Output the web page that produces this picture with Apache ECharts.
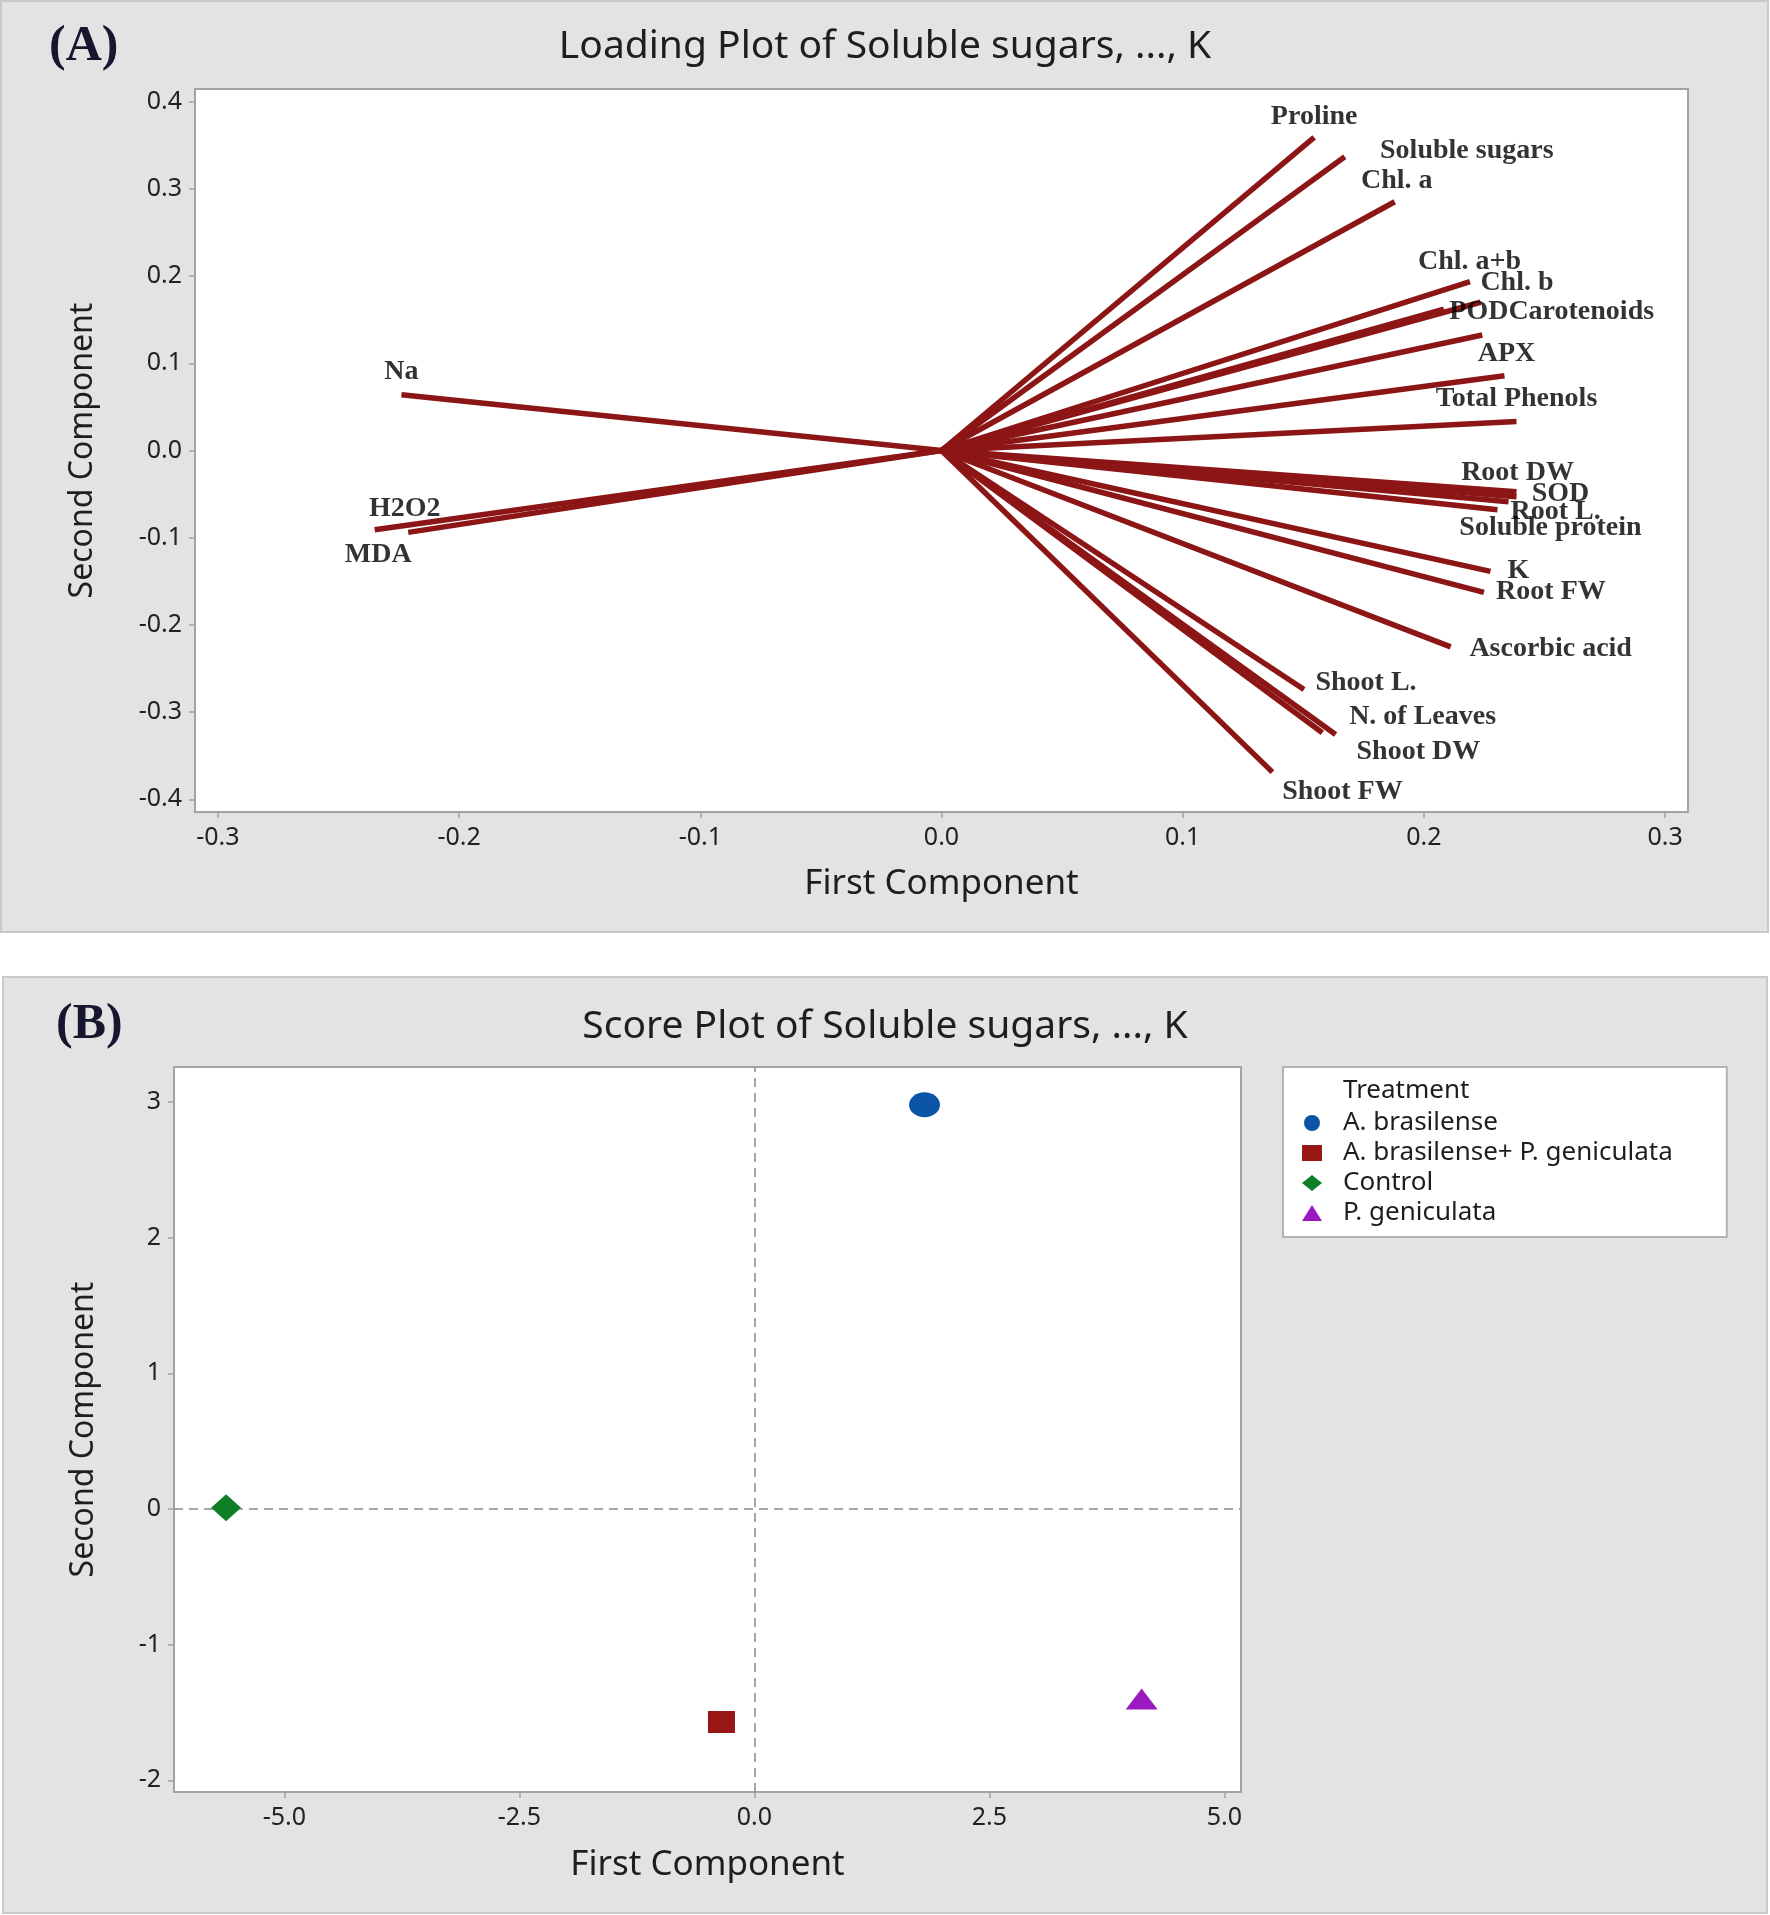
<!DOCTYPE html>
<html>
<head>
<meta charset="utf-8">
<title>Loading and Score Plot</title>
<script src="https://cdn.jsdelivr.net/npm/echarts@6/dist/echarts.min.js"></script>
<style>
  html, body { margin: 0; padding: 0; background: #ffffff; }
  #main { width: 1770px; height: 1915px; }
</style>
</head>
<body>
<div id="main"></div>
<script>
// ---- loading plot (A) ----
const loadingNames = ['Proline', 'Soluble sugars', 'Chl. a', 'Chl. b', 'Chl. a+b', 'POD', 'Carotenoids', 'APX',
  'Total Phenols', 'Root DW', 'SOD', 'Root L.', 'Soluble protein', 'K', 'Root FW', 'Ascorbic acid',
  'Shoot L.', 'N. of Leaves', 'Shoot DW', 'Shoot FW', 'Na', 'H2O2', 'MDA'];
const pc1Loadings = [0.1545, 0.1672, 0.1879, 0.2191, 0.2235, 0.2083, 0.2242, 0.2334,
  0.2384, 0.2384, 0.2384, 0.2351, 0.2305, 0.2276, 0.2249, 0.2111,
  0.1503, 0.1634, 0.1579, 0.1372, -0.2239, -0.2350, -0.2211];
const pc2Loadings = [0.3590, 0.3368, 0.2852, 0.1936, 0.1700, 0.1620, 0.1325, 0.0856,
  0.0332, -0.0473, -0.0530, -0.0588, -0.0679, -0.1386, -0.1627, -0.2252,
  -0.2741, -0.3257, -0.3237, -0.3688, 0.0638, -0.0908, -0.0939];
const loadingXTicks = [-0.3, -0.2, -0.1, 0.0, 0.1, 0.2, 0.3];
const loadingYTicks = [-0.4, -0.3, -0.2, -0.1, 0.0, 0.1, 0.2, 0.3, 0.4];

// ---- score plot (B) ----
const treatments = ['A. brasilense', 'A. brasilense+ P. geniculata', 'Control', 'P. geniculata'];
const pc1Scores = [1.81, -0.35, -5.62, 4.12];
const pc2Scores = [2.98, -1.57, 0.01, -1.40];
const scoreXTicks = [-5.0, -2.5, 0.0, 2.5, 5.0];
const scoreYTicks = [-2, -1, 0, 1, 2, 3];

// label placement (pixel offsets from the vector tip), styling only
const labelOffsets = [[0, -21], [122, -6], [2, -21], [47, 1], [-11, -40], [35, 3], [99, -23], [2, -22],
  [0, -23], [1, -19], [44, -3], [47, 10], [53, 18], [28, -1], [67, -1], [100, 2],
  [62, -7], [87, -18], [96, 19], [70, 20], [0, -23], [30, -21], [-30, 22]];
const treatmentColors = ['#0b55a6', '#981616', '#0e7f27', '#9a1ac0'];
const treatmentSymbols = ['circle', 'rect', 'diamond', 'triangle'];
const treatmentSizes = [[31, 25], [27, 22], [30, 27], [32, 21]];

const sansFont = 'Noto Sans';
const vectorColor = '#8c1515';
const frameColor = '#a3a3a3';

const axis = function ({ gridIndex, name, nameGap, nameSize, min, max, ticks, digits }) {
  return {
    type: 'value',
    gridIndex: gridIndex,
    name: name,
    nameLocation: 'middle',
    nameGap: nameGap,
    nameTextStyle: { fontFamily: sansFont, fontSize: nameSize, color: '#1e1e1e' },
    min: min,
    max: max,
    splitLine: { show: false },
    axisLine: { show: true, onZero: false, lineStyle: { color: frameColor, width: 2 } },
    axisTick: { show: true, length: 6, customValues: ticks, lineStyle: { color: frameColor, width: 1.5 } },
    axisLabel: {
      customValues: ticks,
      margin: 13,
      fontFamily: sansFont,
      fontSize: 25,
      color: '#222',
      formatter: v => v.toFixed(digits)
    }
  };
};

const vectorLines = loadingNames.map((n, i) => ({ coords: [[0, 0], [pc1Loadings[i], pc2Loadings[i]]] }));
const vectorTips = loadingNames.map((n, i) => ({
  name: n,
  value: [pc1Loadings[i], pc2Loadings[i]],
  label: { offset: labelOffsets[i] }
}));

const scoreSeries = treatments.map((t, i) => {
  const s = {
    name: t,
    type: 'scatter',
    xAxisIndex: 1,
    yAxisIndex: 1,
    symbol: treatmentSymbols[i],
    symbolSize: treatmentSizes[i],
    itemStyle: { color: treatmentColors[i], opacity: 1 },
    data: [[pc1Scores[i], pc2Scores[i]]],
    z: 5
  };
  if (i === 0) {
    s.markLine = {
      silent: true,
      symbol: 'none',
      label: { show: false },
      lineStyle: { color: '#8a8a8a', type: [9, 6], width: 1.5 },
      data: [{ xAxis: 0 }, { yAxis: 0 }]
    };
  }
  return s;
});

const chart = echarts.init(document.getElementById('main'), null, { renderer: 'canvas' });

const option = {
  animation: false,
  backgroundColor: '#ffffff',
  title: [
    {
      text: 'Loading Plot of Soluble sugars, ..., K',
      left: 'center',
      top: 24,
      padding: 0,
      textStyle: { fontFamily: sansFont, fontSize: 39, fontWeight: 'normal', color: '#1e1e1e', lineHeight: 46 }
    },
    {
      text: 'Score Plot of Soluble sugars, ..., K',
      left: 'center',
      top: 1004,
      padding: 0,
      textStyle: { fontFamily: sansFont, fontSize: 39, fontWeight: 'normal', color: '#1e1e1e', lineHeight: 46 }
    }
  ],
  graphic: [
    { type: 'rect', z: -10, shape: { x: 1, y: 1, width: 1767, height: 931 },
      style: { fill: '#e3e3e3', stroke: '#c9c9c9', lineWidth: 2 } },
    { type: 'rect', z: -10, shape: { x: 3, y: 977, width: 1764, height: 936 },
      style: { fill: '#e3e3e3', stroke: '#c9c9c9', lineWidth: 2 } },
    { type: 'text', left: 49, top: 22, z: 100,
      style: { text: '(A)', font: 'bold 50px "Liberation Serif"', fill: '#16162e' } },
    { type: 'text', left: 56, top: 1000, z: 100,
      style: { text: '(B)', font: 'bold 50px "Liberation Serif"', fill: '#16162e' } },
    { type: 'text', left: 1343, top: 1078, z: 100,
      style: { text: 'Treatment', font: '26px "Noto Sans"', fill: '#1e1e1e' } }
  ],
  legend: {
    data: treatments,
    orient: 'vertical',
    left: 1283,
    top: 1067,
    padding: [41, 54, 9, 19],
    itemWidth: 20,
    itemHeight: 16,
    itemGap: 0,
    backgroundColor: '#ffffff',
    borderColor: '#b3b3b3',
    borderWidth: 2,
    borderRadius: 0,
    textStyle: { fontFamily: sansFont, fontSize: 26, color: '#1e1e1e', lineHeight: 30, padding: [0, 0, 0, 16] }
  },
  grid: [
    { left: 195, top: 89, width: 1493, height: 723, show: true, backgroundColor: '#ffffff',
      borderColor: frameColor, borderWidth: 2 },
    { left: 174, top: 1067, width: 1067, height: 725, show: true, backgroundColor: '#ffffff',
      borderColor: frameColor, borderWidth: 2 }
  ],
  xAxis: [
    axis({ gridIndex: 0, name: 'First Component', nameGap: 55, nameSize: 35, min: -0.3095, max: 0.3095, ticks: loadingXTicks, digits: 1 }),
    axis({ gridIndex: 1, name: 'First Component', nameGap: 56, nameSize: 35, min: -6.174, max: 5.177, ticks: scoreXTicks, digits: 1 })
  ],
  yAxis: [
    axis({ gridIndex: 0, name: 'Second Component', nameGap: 96, nameSize: 32, min: -0.4145, max: 0.4145, ticks: loadingYTicks, digits: 1 }),
    axis({ gridIndex: 1, name: 'Second Component', nameGap: 74, nameSize: 32, min: -2.086, max: 3.258, ticks: scoreYTicks, digits: 0 })
  ],
  series: [
    {
      name: 'vectors',
      type: 'lines',
      coordinateSystem: 'cartesian2d',
      xAxisIndex: 0,
      yAxisIndex: 0,
      polyline: false,
      silent: true,
      lineStyle: { color: vectorColor, width: 5.5, opacity: 1, curveness: 0 },
      data: vectorLines
    },
    {
      name: 'vector labels',
      type: 'scatter',
      xAxisIndex: 0,
      yAxisIndex: 0,
      symbolSize: 1,
      silent: true,
      itemStyle: { color: 'transparent' },
      label: {
        show: true,
        position: 'inside',
        formatter: p => p.name,
        fontFamily: 'Liberation Serif',
        fontWeight: 'bold',
        fontSize: 28,
        color: '#000000'
      },
      data: vectorTips,
      z: 6
    }
  ].concat(scoreSeries)
};

chart.setOption(option);
</script>
</body>
</html>
